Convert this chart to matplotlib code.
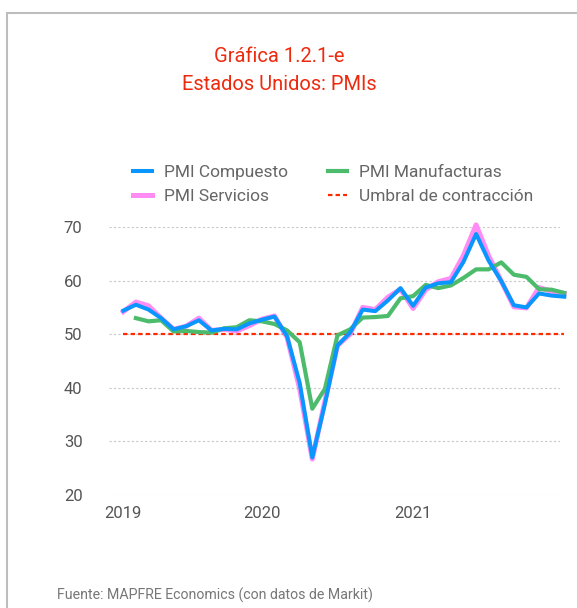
import matplotlib

matplotlib.use('Agg')
import numpy as np
import matplotlib.pyplot as plt
from matplotlib.patches import Rectangle

plt.rcParams['font.family'] = ['Roboto', 'DejaVu Sans']

# Monthly data, Jan 2019 - Dec 2021
meses = [f'{a}-{m:02d}' for a in (2019, 2020, 2021) for m in range(1, 13)]

compuesto = [54.4, 55.5, 54.6, 53.0, 50.9, 51.5, 52.6, 50.7, 51.0, 50.9, 52.0, 52.7,
             53.3, 49.6, 40.9, 27.0, 37.0, 47.9, 50.3, 54.6, 54.3, 56.3, 58.6, 55.3,
             58.7, 59.5, 59.7, 63.5, 68.7, 63.7, 59.9, 55.4, 55.0, 57.6, 57.2, 57.0]
servicios = [54.2, 56.0, 55.3, 53.0, 50.9, 51.5, 53.0, 50.7, 50.9, 50.6, 51.6, 52.8,
             53.4, 49.4, 39.8, 26.7, 37.5, 47.9, 50.0, 55.0, 54.6, 56.9, 58.4, 54.8,
             58.3, 59.8, 60.4, 64.7, 70.4, 64.6, 59.9, 55.1, 54.9, 58.7, 58.0, 57.6]
manufacturas = [np.nan, 53.0, 52.4, 52.6, 50.5, 50.6, 50.4, 50.3, 51.1, 51.3, 52.6, 52.4,
                51.9, 50.7, 48.5, 36.1, 39.8, 49.8, 50.9, 53.1, 53.2, 53.4, 56.7, 57.1,
                59.2, 58.6, 59.1, 60.5, 62.1, 62.1, 63.4, 61.1, 60.7, 58.4, 58.3, 57.7]
umbral = [50] * len(meses)

year_labels = ['2019', '2020', '2021']
year_pos = [0, 11, 23]

x = np.arange(len(meses))
gris = '#666666'

fig = plt.figure(figsize=(5.77, 6.08), dpi=100)

# outer frame (only top/left visible in the crop)
fig.patches.append(Rectangle((7 / 577, -0.1), 1.2, 1 - 13 / 608 + 0.1,
                             transform=fig.transFigure, fill=False,
                             edgecolor='#bdbdbd', linewidth=1.5))

ax = fig.add_axes([109 / 577, 1 - 495 / 608, 451 / 577, 268 / 608])

ax.plot(x, compuesto, color='#0A96FF', lw=2.9, label='PMI Compuesto', zorder=5, clip_on=False)
ax.plot(x, servicios, color='#FF8CF5', lw=3.6, label='PMI Servicios', zorder=3, clip_on=False)
ax.plot(x, manufacturas, color='#4CBB6C', lw=3.0, label='PMI Manufacturas', zorder=4, clip_on=False)
ax.plot(x, umbral, color='#FF2A00', lw=1.6, linestyle=(0, (2, 1.4)),
        label='Umbral de contracción', zorder=2, clip_on=False)

ax.set_xlim(-1.135, 34.66)
ax.set_ylim(20, 70)
ax.set_yticks([20, 30, 40, 50, 60, 70])
ax.set_xticks(year_pos)
ax.set_xticklabels(year_labels)
ax.tick_params(length=0, labelsize=12, colors='#555555')
ax.tick_params(axis='y', pad=19)
ax.tick_params(axis='x', pad=8)
for s in ax.spines.values():
    s.set_visible(False)
ax.grid(axis='y', color='#c8c8c8', linestyle=(0, (2, 2)), linewidth=0.8)
ax.set_axisbelow(True)

fig.legend(loc='upper left', bbox_to_anchor=(133 / 577, 1 - 165 / 608), ncol=2,
           frameon=False, fontsize=12.5, handlelength=1.1, handletextpad=0.69,
           columnspacing=2.3, labelspacing=0.5, borderpad=0, borderaxespad=0,
           labelcolor=gris)

fig.text(279 / 577, 1 - 57 / 608, 'Gráfica 1.2.1-e', color='#EE2A0E', fontsize=14.5,
         ha='center', va='center')
fig.text(279 / 577, 1 - 85 / 608, 'Estados Unidos: PMIs', color='#EE2A0E', fontsize=14.5,
         ha='center', va='center')

fig.text(57 / 577, 1 - 595 / 608, 'Fuente: MAPFRE Economics (con datos de Markit)',
         color='#777777', fontsize=10.2, ha='left', va='center')

fig.savefig('out.png', dpi=100)
